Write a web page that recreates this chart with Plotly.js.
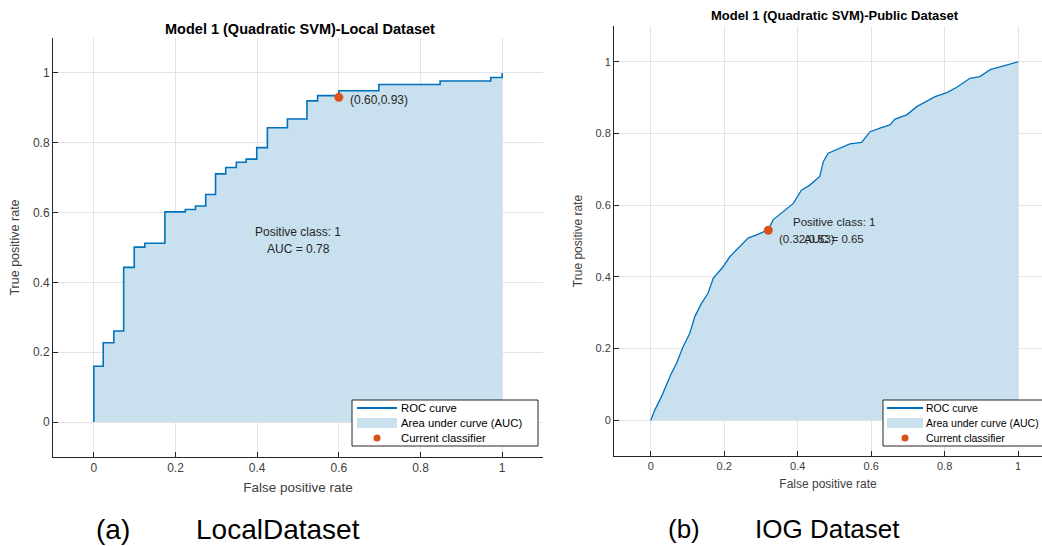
<!DOCTYPE html>
<html>
<head>
<meta charset="utf-8">
<script src="https://cdn.plot.ly/plotly-3.0.1.min.js"></script>
<style>html,body{margin:0;padding:0;background:#fff;}#chart{width:1042px;height:546px;}</style>
</head>
<body>
<div id="chart"></div>
<script>
// ---- data ----
var localFpr = [0, 0, 0.023, 0.049, 0.073, 0.099, 0.125, 0.174, 0.224, 0.249, 0.274, 0.298, 0.323, 0.349, 0.373, 0.399, 0.425, 0.474, 0.522, 0.548, 0.600, 0.698, 0.848, 0.972, 1.0];
var localTpr = [0, 0.160, 0.227, 0.261, 0.443, 0.501, 0.512, 0.602, 0.609, 0.619, 0.652, 0.711, 0.729, 0.744, 0.753, 0.786, 0.843, 0.868, 0.920, 0.935, 0.949, 0.967, 0.977, 0.987, 1.0];
var localPointFpr = [0.60];
var localPointTpr = [0.93];
var localAuc = 0.78;

var publicFpr = [0, 0.011, 0.029, 0.043, 0.056, 0.070, 0.088, 0.106, 0.120, 0.138, 0.156, 0.170, 0.197, 0.215, 0.243, 0.265, 0.288, 0.320, 0.333, 0.360, 0.388, 0.410, 0.433, 0.460, 0.470, 0.483, 0.515, 0.542, 0.574, 0.597, 0.624, 0.651, 0.665, 0.697, 0.724, 0.751, 0.774, 0.806, 0.833, 0.869, 0.896, 0.924, 0.956, 0.983, 1.0];
var publicTpr = [0, 0.028, 0.065, 0.100, 0.130, 0.158, 0.205, 0.242, 0.289, 0.326, 0.354, 0.396, 0.428, 0.456, 0.484, 0.508, 0.517, 0.531, 0.559, 0.582, 0.605, 0.642, 0.656, 0.680, 0.722, 0.745, 0.759, 0.771, 0.775, 0.805, 0.815, 0.824, 0.840, 0.852, 0.875, 0.889, 0.903, 0.914, 0.929, 0.954, 0.959, 0.978, 0.987, 0.996, 1.0];
var publicPointFpr = [0.32];
var publicPointTpr = [0.53];
var publicAuc = 0.65;

var tickVals = [0, 0.2, 0.4, 0.6, 0.8, 1];
var tickLabels = ['0', '0.2', '0.4', '0.6', '0.8', '1'];
var legendLabels = ['ROC curve', 'Area under curve (AUC)', 'Current classifier'];
var titles = ['Model 1 (Quadratic SVM)-Local Dataset', 'Model 1 (Quadratic SVM)-Public Dataset'];
var captionTags = ['(a)', '(b)'];
var captionNames = ['LocalDataset', 'IOG Dataset'];

// ---- styling ----
var W = 1042, H = 546;
function px(x) { return x / W; }
function py(y) { return 1 - y / H; }
var FONT = 'Liberation Sans, Arial, Helvetica, sans-serif';
var LINE = '#0072BD', FILL = '#c9e0ee', DOT = '#D95319';
var AX = '#262626', TXT = '#404040', GRID = '#e3e3e3';

function roc(x, y, xa, ya, shape, lw) {
  return [
    {x: x, y: y, xaxis: xa, yaxis: ya, type: 'scatter', mode: 'lines', name: 'Area under curve (AUC)',
     line: {shape: shape, width: 0, color: FILL}, fill: 'tozeroy', fillcolor: FILL,
     showlegend: false, hoverinfo: 'skip'},
    {x: x, y: y, xaxis: xa, yaxis: ya, type: 'scatter', mode: 'lines', name: 'ROC curve',
     line: {shape: shape, width: lw, color: LINE}, showlegend: false}
  ];
}

var data = [].concat(
  roc(localFpr, localTpr, 'x', 'y', 'hv', 1.6),
  [{x: localPointFpr, y: localPointTpr, xaxis: 'x', yaxis: 'y', type: 'scatter', mode: 'markers',
    name: 'Current classifier', marker: {color: DOT, size: 9}, showlegend: false}],
  roc(publicFpr, publicTpr, 'x2', 'y2', 'linear', 1.3),
  [{x: publicPointFpr, y: publicPointTpr, xaxis: 'x2', yaxis: 'y2', type: 'scatter', mode: 'markers',
    name: 'Current classifier', marker: {color: DOT, size: 9}, showlegend: false}]
);

function xAxis(domain, range, anchor, fs, tfs, standoff) {
  return {domain: domain, range: range, anchor: anchor, tickvals: tickVals, ticktext: tickLabels,
    showgrid: true, gridcolor: GRID, gridwidth: 1, zeroline: false, showline: true, linecolor: AX, linewidth: 1,
    ticks: 'inside', ticklen: 5, tickcolor: AX, tickfont: {family: FONT, size: fs, color: TXT},
    title: {text: 'False positive rate', font: {family: FONT, size: tfs, color: TXT}, standoff: standoff},
    automargin: false, fixedrange: true};
}
function yAxis(domain, anchor, fs, tfs, standoff) {
  return {domain: domain, range: [-0.1, 1.1], anchor: anchor, tickvals: tickVals, ticktext: tickLabels,
    showgrid: true, gridcolor: GRID, gridwidth: 1, zeroline: false, showline: true, linecolor: AX, linewidth: 1,
    ticks: 'inside', ticklen: 5, tickcolor: AX, tickfont: {family: FONT, size: fs, color: TXT},
    title: {text: 'True positive rate', font: {family: FONT, size: tfs, color: TXT}, standoff: standoff},
    automargin: false, fixedrange: true};
}

var shapes = [];
var annotations = [];

function legend(box, rows, lineX0, lineX1, textX, fs, fillH) {
  shapes.push({type: 'rect', xref: 'paper', yref: 'paper', x0: px(box[0]), x1: px(box[2]), y0: py(box[3]), y1: py(box[1]),
    line: {color: AX, width: 1}, fillcolor: '#ffffff', layer: 'above'});
  shapes.push({type: 'line', xref: 'paper', yref: 'paper', x0: px(lineX0), x1: px(lineX1), y0: py(rows[0]), y1: py(rows[0]),
    line: {color: LINE, width: 2}, layer: 'above'});
  shapes.push({type: 'rect', xref: 'paper', yref: 'paper', x0: px(lineX0), x1: px(lineX1), y0: py(rows[1] + fillH / 2), y1: py(rows[1] - fillH / 2),
    line: {width: 0}, fillcolor: FILL, layer: 'above'});
  var cx = (lineX0 + lineX1) / 2;
  shapes.push({type: 'circle', xref: 'paper', yref: 'paper', x0: px(cx - 3.5), x1: px(cx + 3.5), y0: py(rows[2] + 3.5), y1: py(rows[2] - 3.5),
    line: {width: 0}, fillcolor: DOT, layer: 'above'});
  for (var i = 0; i < 3; i++) {
    annotations.push({xref: 'paper', yref: 'paper', x: px(textX), y: py(rows[i]), xanchor: 'left', yanchor: 'middle',
      text: legendLabels[i], showarrow: false, font: {family: FONT, size: fs, color: '#000'}});
  }
}
legend([352, 400, 538, 446], [408, 423, 438], 357, 397, 399, 11.3, 10);
legend([883, 400, 1050, 446], [408, 423, 438], 887, 923, 924, 10.5, 10);

// text inside the plots
function inner(xa, ya, auc, cy, pfx, pty, fs, pyShift) {
  annotations.push({xref: xa, yref: ya, x: 0.5, y: cy, xanchor: 'center', yanchor: 'middle', yshift: 8.5,
    text: 'Positive class: 1', showarrow: false, font: {family: FONT, size: fs, color: AX}});
  annotations.push({xref: xa, yref: ya, x: 0.5, y: cy, xanchor: 'center', yanchor: 'middle', yshift: -8.5,
    text: 'AUC = ' + auc.toFixed(2), showarrow: false, font: {family: FONT, size: fs, color: AX}});
  annotations.push({xref: xa, yref: ya, x: pfx[0], y: pty[0], xanchor: 'left', yanchor: 'middle', xshift: 9, yshift: pyShift,
    text: '(' + pfx[0].toFixed(2) + ',' + pty[0].toFixed(2) + ')', showarrow: false, font: {family: FONT, size: fs, color: AX}});
}
inner('x', 'y', localAuc, 0.52, localPointFpr, localPointTpr, 12, -3);
inner('x2', 'y2', publicAuc, 0.528, publicPointFpr, publicPointTpr, 11.5, -9);

// second subplot title
annotations.push({xref: 'paper', yref: 'paper', x: px(834.5), y: py(15), xanchor: 'center', yanchor: 'middle',
  text: '<b>' + titles[1] + '</b>', showarrow: false, font: {family: FONT, size: 13, color: '#000'}});

// captions
var capX = [[113, 278], [684, 827]];
var capSize = [28, 26];
for (var c = 0; c < 2; c++) {
  annotations.push({xref: 'paper', yref: 'paper', x: px(capX[c][0]), y: py(529), xanchor: 'center', yanchor: 'middle',
    text: captionTags[c], showarrow: false, font: {family: FONT, size: capSize[c], color: '#000'}});
  annotations.push({xref: 'paper', yref: 'paper', x: px(capX[c][1]), y: py(529), xanchor: 'center', yanchor: 'middle',
    text: captionNames[c], showarrow: false, font: {family: FONT, size: capSize[c], color: '#000'}});
}

var layout = {
  width: W, height: H,
  margin: {l: 0, r: 0, t: 0, b: 0},
  paper_bgcolor: '#ffffff', plot_bgcolor: '#ffffff',
  showlegend: false,
  title: {text: '<b>' + titles[0] + '</b>', x: px(300), xref: 'paper', y: py(29), yref: 'paper',
    xanchor: 'center', yanchor: 'middle', font: {family: FONT, size: 14.5, color: '#000'}},
  xaxis: xAxis([px(53), px(543)], [-0.1, 1.1], 'y', 12, 13.5, 8),
  yaxis: yAxis([py(457), py(38)], 'x', 12, 12.5, 10),
  xaxis2: xAxis([px(614), 1], [-0.1, 1.065], 'y2', 11, 12, 8),
  yaxis2: yAxis([py(456), py(26)], 'x2', 11, 12, 10),
  shapes: shapes,
  annotations: annotations
};

Plotly.newPlot('chart', data, layout, {displayModeBar: false, staticPlot: true});
</script>
</body>
</html>
